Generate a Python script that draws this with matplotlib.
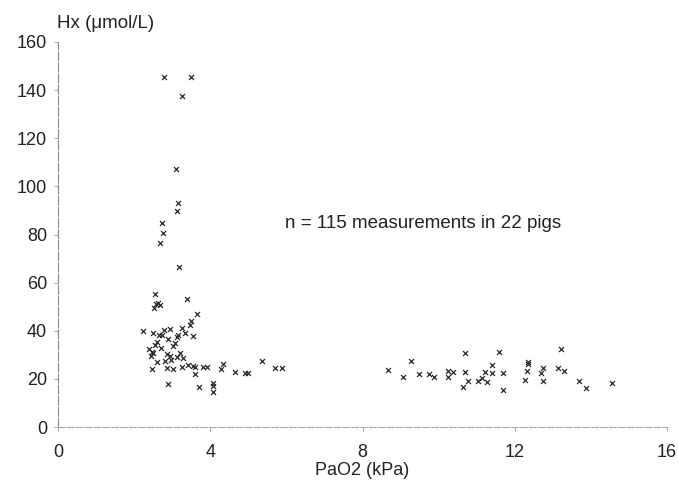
import matplotlib
matplotlib.use("Agg")
import matplotlib.pyplot as plt

plt.rcParams['font.family'] = ['Liberation Sans', 'DejaVu Sans']

# PaO2 (kPa) and Hx (umol/L)
pao2 = [2.79, 3.49, 3.26, 3.10, 3.15, 3.13, 2.73, 2.76, 2.68, 3.18,
        2.55, 2.57, 2.63, 2.68, 2.52, 3.39, 3.65, 3.49, 3.47,
        2.23, 2.50, 2.65, 2.73, 2.78, 2.94, 3.26, 3.34, 3.13, 3.15, 3.55,
        3.02, 2.60, 2.55, 2.47, 2.50, 2.86, 2.94, 3.21, 3.13, 3.29,
        2.60, 2.81, 2.47, 2.86, 3.02, 3.26, 3.42, 3.55, 3.60, 3.81, 3.91,
        4.28, 4.34, 4.65, 4.91, 5.00, 3.60, 2.89, 3.70, 4.07, 4.07, 4.07,
        5.70, 5.88, 5.36,
        8.67, 9.07, 9.27, 9.49, 9.75, 9.88, 10.25, 10.38, 10.25, 10.69,
        10.69, 10.77, 10.64, 11.04, 11.14, 11.22, 11.27, 11.40, 11.40, 11.59,
        11.69, 11.69, 12.35, 12.35, 12.32, 12.27, 12.74, 12.69, 12.74, 13.22,
        13.14, 13.30, 13.69, 13.87, 14.56,
        2.40, 2.70, 2.98, 3.08, 2.45, 2.90]
hx = [145.5, 145.5, 137.6, 107.2, 93.1, 89.8, 84.8, 80.6, 76.5, 66.5,
      55.3, 51.0, 51.5, 50.5, 49.5, 53.2, 47.0, 44.0, 42.4,
      39.9, 39.0, 38.2, 38.2, 40.3, 40.7, 41.1, 39.0, 37.4, 38.2, 37.8,
      33.7, 35.3, 34.0, 31.2, 30.8, 30.3, 29.5, 30.8, 29.2, 28.8,
      27.0, 27.4, 24.1, 24.5, 24.1, 24.9, 25.8, 25.2, 24.9, 24.9, 24.9,
      24.1, 26.2, 22.9, 22.4, 22.4, 22.0, 17.9, 16.6, 18.3, 17.1, 14.5,
      24.5, 24.5, 27.4,
      23.7, 20.8, 27.4, 22.0, 22.0, 20.8, 23.3, 22.9, 20.8, 30.8,
      22.9, 19.1, 16.6, 19.1, 20.4, 22.9, 18.7, 25.8, 22.4, 31.2,
      22.4, 15.4, 27.0, 26.2, 23.3, 19.5, 24.5, 22.4, 19.1, 32.4,
      24.5, 23.3, 19.1, 16.2, 18.3,
      32.5, 33.0, 28.0, 35.0, 29.5, 36.5]

xticks = [0, 4, 8, 12, 16]
yticks = [0, 20, 40, 60, 80, 100, 120, 140, 160]

fig = plt.figure(figsize=(6.78, 4.83), dpi=100)
ax = fig.add_axes([58/678, 1-427/483, (667-58)/678, (427-42)/483])
ax.scatter(pao2, hx, marker='x', s=13, linewidths=0.9, color='#2a2a2a', clip_on=False, zorder=3)

ax.set_xlim(0, 16)
ax.set_ylim(0, 160)
ax.set_xticks(xticks)
ax.set_yticks(yticks)
ax.tick_params(axis='both', labelsize=13, length=3, width=0.6, direction='out', pad=6)
ax.tick_params(axis='x', colors='#999999', labelcolor='#222222', pad=9)
ax.tick_params(axis='y', colors='#999999', labelcolor='#222222', pad=5)

for s in ['top', 'right']:
    ax.spines[s].set_visible(False)
ax.spines['left'].set_color('#888888')
ax.spines['left'].set_linewidth(0.8)
ax.spines['left'].set_linestyle((0, (8, 2)))
ax.spines['bottom'].set_color('#aaaaaa')
ax.spines['bottom'].set_linewidth(0.8)
ax.spines['bottom'].set_linestyle((0, (6, 2)))

ax.set_xlabel('PaO2 (kPa)', fontsize=13, color='#222222', labelpad=1)
fig.text(57/678, 1-24/483, 'Hx (\u03bcmol/L)', fontsize=13.5, color='#222222', ha='left', va='center')
ax.text(9.6, 84.4, 'n = 115 measurements in 22 pigs', fontsize=13.5, color='#222222', ha='center', va='center')

fig.savefig('out.png', dpi=100, facecolor='white')
